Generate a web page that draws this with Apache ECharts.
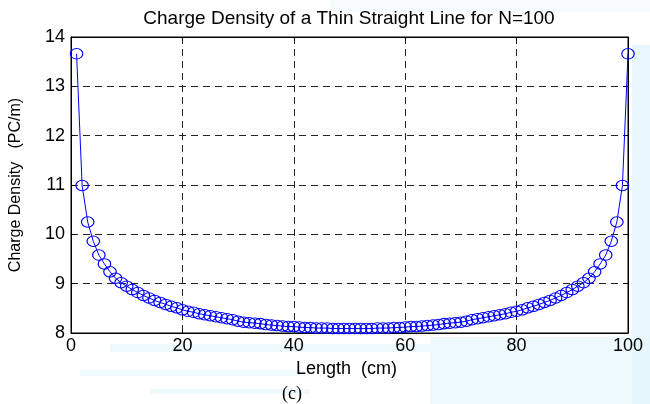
<!DOCTYPE html>
<html><head><meta charset="utf-8">
<script src="https://cdn.jsdelivr.net/npm/echarts@6/dist/echarts.min.js"></script>
<style>html,body{margin:0;padding:0;background:#fff}#c{width:650px;height:404px}</style>
</head><body><div id="c"></div>
<script>
const titleText = 'Charge Density of a Thin Straight Line for N=100';
const xAxisName = 'Length  (cm)';
const yAxisName = 'Charge Density   (PC/m)';
const captionText = '(c)';
const xTicks = [0, 20, 40, 60, 80, 100];
const yTicks = [8, 9, 10, 11, 12, 13, 14];
const lengthCm = [1,2,3,4,5,6,7,8,9,10,11,12,13,14,15,16,17,18,19,20,21,22,23,24,25,26,27,28,29,30,31,32,33,34,35,36,37,38,39,40,41,42,43,44,45,46,47,48,49,50,51,52,53,54,55,56,57,58,59,60,61,62,63,64,65,66,67,68,69,70,71,72,73,74,75,76,77,78,79,80,81,82,83,84,85,86,87,88,89,90,91,92,93,94,95,96,97,98,99,100];
const chargeDensity = [13.66,10.99,10.25,9.86,9.58,9.40,9.24,9.11,9.02,8.95,8.88,8.82,8.76,8.71,8.66,8.62,8.58,8.54,8.51,8.47,8.44,8.42,8.39,8.37,8.35,8.33,8.31,8.29,8.27,8.24,8.22,8.21,8.20,8.19,8.17,8.16,8.15,8.14,8.13,8.13,8.12,8.11,8.11,8.10,8.10,8.10,8.09,8.09,8.09,8.09,
8.09,8.09,8.09,8.09,8.10,8.10,8.10,8.11,8.11,8.12,8.13,8.13,8.14,8.15,8.16,8.17,8.19,8.20,8.21,8.22,8.24,8.27,8.29,8.31,8.33,8.35,8.37,8.39,8.42,8.44,8.47,8.51,8.54,8.58,8.62,8.66,8.71,8.76,8.82,8.88,8.95,9.02,9.11,9.24,9.40,9.58,9.86,10.25,10.99,13.66];

const FONT = '"Liberation Sans", Arial, sans-serif';
const chart = echarts.init(document.getElementById('c'), null, {renderer: 'canvas'});
const xMin = xTicks[0], xMax = xTicks[xTicks.length - 1], xInt = xTicks[1] - xTicks[0];
const yMin = yTicks[0], yMax = yTicks[yTicks.length - 1], yInt = yTicks[1] - yTicks[0];
const cyan = '#e2f5fc';

const baseX = {
  type: 'value', min: xMin, max: xMax, interval: xInt,
  axisLine: {show: true, onZero: false, lineStyle: {color: '#000', width: 1}},
  axisTick: {show: true, inside: true, length: 4, lineStyle: {color: '#000'}},
};
const baseY = {
  type: 'value', min: yMin, max: yMax, interval: yInt,
  axisLine: {show: true, onZero: false, lineStyle: {color: '#000', width: 1}},
  axisTick: {show: true, inside: true, length: 4, lineStyle: {color: '#000'}},
};

chart.setOption({
  animation: false,
  backgroundColor: '#fff',
  graphic: [
    {type: 'rect', silent: true, z: -10, shape: {x: 632, y: 45, width: 18, height: 359}, style: {fill: cyan, opacity: 0.8}},
    {type: 'rect', silent: true, z: -10, shape: {x: 430, y: 337, width: 220, height: 67}, style: {fill: cyan, opacity: 0.6}},
    {type: 'rect', silent: true, z: -10, shape: {x: 110, y: 344, width: 320, height: 8}, style: {fill: cyan, opacity: 0.6}},
    {type: 'rect', silent: true, z: -10, shape: {x: 80, y: 370, width: 220, height: 6}, style: {fill: cyan, opacity: 0.5}},
    {type: 'rect', silent: true, z: -10, shape: {x: 150, y: 389, width: 160, height: 5}, style: {fill: cyan, opacity: 0.5}},
    {type: 'rect', silent: true, z: -10, shape: {x: 330, y: 0, width: 320, height: 12}, style: {fill: cyan, opacity: 0.3}},
    {type: 'text', silent: true, z: 10, style: {x: 349, y: 19, text: titleText, align: 'center', verticalAlign: 'middle', font: '19px ' + FONT, fill: '#000'}},
    {type: 'text', silent: true, z: 10, style: {x: 292, y: 394, text: captionText, align: 'center', verticalAlign: 'middle', font: '18px "Liberation Serif", "Times New Roman", serif', fill: '#000'}}
  ],
  grid: {left: 70, right: 22, top: 37, bottom: 71, show: true, backgroundColor: '#fff', borderColor: '#000', borderWidth: 1},
  xAxis: [
    Object.assign({}, baseX, {
      position: 'bottom',
      name: xAxisName, nameLocation: 'middle', nameGap: 26,
      nameTextStyle: {fontFamily: FONT, fontSize: 18, color: '#000', padding: [0, 6, 0, 0]},
      axisLabel: {show: true, color: '#000', fontFamily: FONT, fontSize: 18, margin: 4},
      splitLine: {show: true, lineStyle: {color: '#222', type: [7, 5], width: 1}}
    }),
    Object.assign({}, baseX, {position: 'top', axisLabel: {show: false}, splitLine: {show: false}})
  ],
  yAxis: [
    Object.assign({}, baseY, {
      position: 'left',
      name: yAxisName, nameLocation: 'middle', nameGap: 47,
      nameTextStyle: {fontFamily: FONT, fontSize: 16, color: '#000'},
      axisLabel: {show: true, color: '#000', fontFamily: FONT, fontSize: 18, margin: 6},
      splitLine: {show: true, lineStyle: {color: '#222', type: [7, 5], width: 1}}
    }),
    Object.assign({}, baseY, {position: 'right', axisLabel: {show: false}, splitLine: {show: false}})
  ],
  series: [{
    type: 'line',
    data: lengthCm.map((x, i) => [x, chargeDensity[i]]),
    xAxisIndex: 0, yAxisIndex: 0,
    symbol: 'circle', symbolSize: [12.5, 10.5], showAllSymbol: true,
    lineStyle: {color: '#0000ff', width: 1},
    itemStyle: {color: 'rgba(0,0,0,0)', borderColor: '#0000ff', borderWidth: 1.1},
    clip: false, z: 5
  }]
});
</script></body></html>
